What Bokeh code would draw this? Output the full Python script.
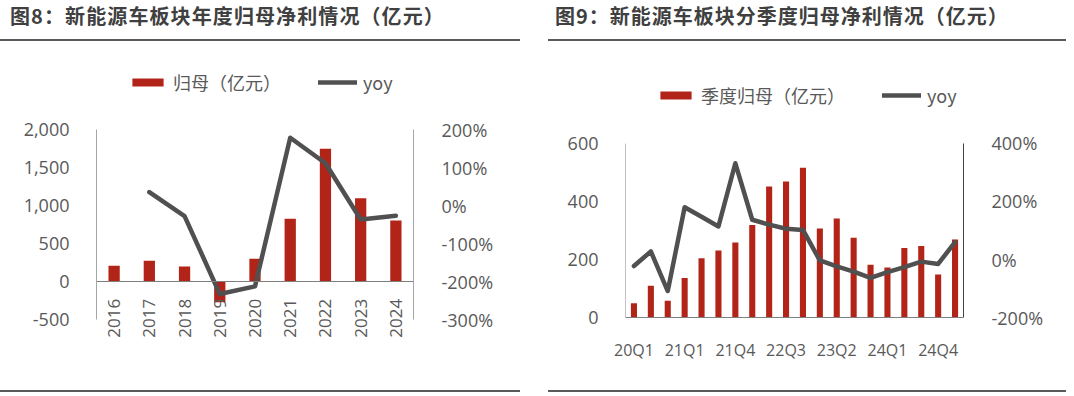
from math import pi
from bokeh.plotting import figure
from bokeh.models import (Range1d, LinearAxis, NumeralTickFormatter, PrintfTickFormatter,
                          SingleIntervalTicker, FixedTicker, Legend, LegendItem, Div, Spacer)
from bokeh.layouts import row, column
from bokeh.embed import file_html
from bokeh.resources import INLINE

# ---------------- data ----------------
years = ["2016", "2017", "2018", "2019", "2020", "2021", "2022", "2023", "2024"]
annual_profit = [210, 276, 201, -268, 303, 829, 1750, 1100, 807]
yoy_years = ["2017", "2018", "2019", "2020", "2021", "2022", "2023", "2024"]
annual_yoy = [36, -27, -232, -212, 179, 112, -36, -26]

quarters = ["20Q1", "20Q2", "20Q3", "21Q1", "21Q2", "21Q3", "21Q4", "22Q1", "22Q2", "22Q3",
            "22Q4", "23Q1", "23Q2", "23Q3", "23Q4", "24Q1", "24Q2", "24Q3", "24Q4", "25Q1"]
quarter_profit = [50, 110, 59, 137, 205, 231, 259, 319, 451, 468,
                  516, 307, 341, 275, 182, 173, 240, 247, 149, 269]
quarter_yoy = [-22, 28, -108, 180, 147, 114, 331, 137, 120, 106,
               102, -3, -23, -41, -63, -43, -26, -7, -15, 60]
shown_quarter_labels = ["20Q1", "21Q1", "21Q4", "22Q3", "23Q2", "24Q1", "24Q4"]

title_left = "图8：新能源车板块年度归母净利情况（亿元）"
title_right = "图9：新能源车板块分季度归母净利情况（亿元）"
legend_bar_left = "归母（亿元）"
legend_bar_right = "季度归母（亿元）"
legend_line = "yoy"

# ---------------- style ----------------
RED = "#b22418"
LINE = "#505050"
TXT = "#595959"
RULE = "#5a5a5a"
CJK = "Noto Sans CJK SC"
NUM = "Open Sans"
Y_FS = "18px"


def style_axis(ax, color, standoff=23, fs=Y_FS):
    ax.axis_line_color = color
    ax.major_tick_line_color = None
    ax.minor_tick_line_color = None
    ax.major_tick_out = 0
    ax.major_tick_in = 0
    ax.major_label_standoff = standoff
    ax.major_label_text_font = NUM
    ax.major_label_text_font_size = fs
    ax.major_label_text_color = TXT


def padded(lo, hi, axis_px, extra_low_px, extra_high_px):
    # extend a value range so the frame can also hold the legend and the labels
    per_px = (hi - lo) / axis_px
    return Range1d(lo - extra_low_px * per_px, hi + extra_high_px * per_px)


def make_legend(items, loc):
    return Legend(items=items, orientation="horizontal", location=loc,
                  label_text_font=CJK, label_text_font_size="18px", label_text_color=TXT,
                  glyph_width=39, glyph_height=10, label_standoff=6, spacing=37,
                  padding=0, margin=0, border_line_color=None, background_fill_alpha=0)


def title_div(text, total, rule_w, pad, ls):
    html = ('<div style="box-sizing:border-box;width:%dpx;height:41px;padding-left:%dpx;'
            'padding-top:6px;border-bottom:2px solid %s;font-family:\'Noto Sans CJK SC\';'
            'font-weight:bold;font-size:20px;line-height:20px;letter-spacing:%spx;'
            'color:#404040;white-space:nowrap;overflow:hidden;">%s</div>'
            % (rule_w, pad, RULE, ls, text))
    return Div(text=html, width=total, height=41, margin=0)


def rule(width):
    return Div(text="", width=width, height=2, margin=0,
               styles={"background-color": RULE})


FIG_H = 349
TOP_B, FRAME_H, BOT_B = 29, 295, 25   # shared by both charts so the row keeps them aligned

# ---------------- left chart ----------------
p1 = figure(x_range=years, y_range=padded(-500, 2000, 190, 45.7, 59.3), width=548, height=FIG_H,
            min_border_left=96, min_border_right=135, min_border_top=TOP_B,
            min_border_bottom=BOT_B, output_backend="svg", toolbar_location=None)
p1.outline_line_color = None
p1.xgrid.visible = False
p1.ygrid.visible = False
p1.extra_y_ranges = {"yoy": padded(-300, 200, 190, 45.7, 59.3)}

b1 = p1.vbar(x=years, top=annual_profit, width=0.32, fill_color=RED, line_color=None)
l1 = p1.line(x=yoy_years, y=annual_yoy, y_range_name="yoy", line_width=4.5,
             line_color=LINE, line_join="round", line_cap="round")

p1.yaxis.ticker = SingleIntervalTicker(interval=500)
p1.yaxis.formatter = NumeralTickFormatter(format="0,0")
p1.yaxis.bounds = (-500, 2000)
style_axis(p1.yaxis[0], "#a6a6a6")

ax_r1 = LinearAxis(y_range_name="yoy", ticker=SingleIntervalTicker(interval=100),
                   formatter=PrintfTickFormatter(format="%d%%"), bounds=(-300, 200))
style_axis(ax_r1, "#a6a6a6", standoff=24)
p1.add_layout(ax_r1, "right")

p1.xaxis.fixed_location = 0
style_axis(p1.xaxis[0], "#7f7f7f", standoff=17, fs="17px")
p1.xaxis.major_label_orientation = pi / 2

p1.add_layout(make_legend([LegendItem(label=legend_bar_left, renderers=[b1]),
                           LegendItem(label=legend_line, renderers=[l1])], (32, 270)))

# ---------------- right chart ----------------
# the frame reaches the left edge of the figure so that the first category label
# and the value labels are not clipped; the category band itself is 338 px wide
n_q = len(quarters)
q_pos = list(range(n_q))
p2 = figure(x_range=padded(-0.5, n_q - 0.5, 338, 77, 0),
            y_range=padded(0, 600, 174.6, 47.7, 72.7), width=526, height=FIG_H,
            min_border_left=0, min_border_right=111, min_border_top=TOP_B,
            min_border_bottom=BOT_B, output_backend="svg", toolbar_location=None)
p2.outline_line_color = None
p2.xgrid.visible = False
p2.ygrid.visible = False
p2.yaxis.visible = False
p2.extra_y_ranges = {"yoy": padded(-200, 400, 174.6, 47.7, 72.7)}

b2 = p2.vbar(x=q_pos, top=quarter_profit, width=0.36, fill_color=RED, line_color=None)
l2 = p2.line(x=q_pos, y=quarter_yoy, y_range_name="yoy", line_width=4.5,
             line_color=LINE, line_join="round", line_cap="round")

ax_l2 = LinearAxis(ticker=SingleIntervalTicker(interval=200), bounds=(0, 600),
                   fixed_location=-0.5)
style_axis(ax_l2, "#c0c0c0")
p2.add_layout(ax_l2, "left")

ax_r2 = LinearAxis(y_range_name="yoy", ticker=SingleIntervalTicker(interval=200),
                   formatter=PrintfTickFormatter(format="%d%%"), bounds=(-200, 400))
style_axis(ax_r2, "#404040", standoff=24)
p2.add_layout(ax_r2, "right")

shown_pos = [quarters.index(q) for q in shown_quarter_labels]
p2.xaxis.ticker = FixedTicker(ticks=shown_pos)
p2.xaxis.major_label_overrides = {i: quarters[i] for i in shown_pos}
p2.xaxis.fixed_location = 0
p2.xaxis.bounds = (-0.5, n_q - 0.5)
style_axis(p2.xaxis[0], "#7f7f7f", standoff=21, fs="16px")

p2.add_layout(make_legend([LegendItem(label=legend_bar_right, renderers=[b2]),
                           LegendItem(label=legend_line, renderers=[l2])], (108, 257.3)))

# ---------------- page ----------------
t1 = title_div(title_left, 548, 520, 10, 1.1)
t2 = title_div(title_right, 526, 518, 7, 1.0)
bottom = row(rule(520), Spacer(width=28, height=2), rule(518), spacing=0)

layout = column(row(t1, t2, spacing=0), row(p1, p2, spacing=0), bottom, spacing=0)
open("out.html", "w").write(file_html(layout, INLINE))
